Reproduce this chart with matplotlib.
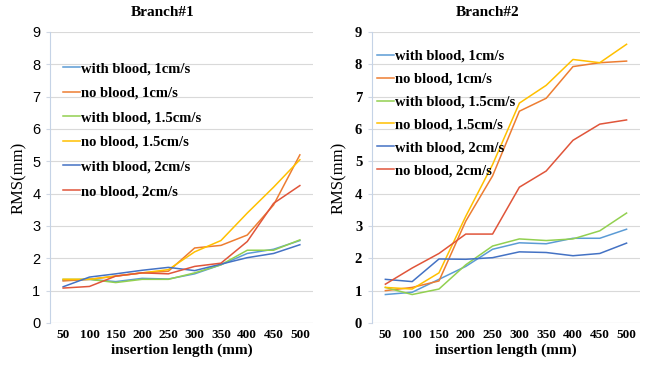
import numpy as np
import matplotlib
matplotlib.use("Agg")
from matplotlib import pyplot as plt

# insertion length categories
lengths = ["50", "100", "150", "200", "250", "300", "350", "400", "450", "500"]
labels = ["with blood, 1cm/s", "no blood, 1cm/s", "with blood, 1.5cm/s",
          "no blood, 1.5cm/s", "with blood, 2cm/s", "no blood, 2cm/s"]
colors = ["#5B9BD5", "#ED7D31", "#92D050", "#FFC000", "#4472C4", "#E0553A"]

# Branch#1 RMS (mm)
b1_wb_1 = [1.32, 1.35, 1.28, 1.38, 1.36, 1.52, 1.80, 2.15, 2.28, 2.55]
b1_nb_1 = [1.30, 1.35, 1.45, 1.55, 1.60, 2.32, 2.40, 2.72, 3.65, 5.20]
b1_wb_15 = [1.35, 1.35, 1.25, 1.35, 1.35, 1.55, 1.80, 2.25, 2.25, 2.57]
b1_nb_15 = [1.35, 1.35, 1.45, 1.55, 1.65, 2.20, 2.55, 3.40, 4.20, 5.05]
b1_wb_2 = [1.12, 1.42, 1.52, 1.63, 1.72, 1.62, 1.82, 2.02, 2.15, 2.42]
b1_nb_2 = [1.08, 1.13, 1.45, 1.55, 1.52, 1.75, 1.85, 2.52, 3.70, 4.25]

# Branch#2 RMS (mm)
b2_wb_1 = [0.88, 0.95, 1.35, 1.75, 2.28, 2.48, 2.45, 2.62, 2.62, 2.90]
b2_nb_1 = [1.00, 1.10, 1.30, 3.15, 4.55, 6.55, 6.95, 7.93, 8.05, 8.10]
b2_wb_15 = [1.10, 0.88, 1.05, 1.80, 2.38, 2.60, 2.55, 2.60, 2.85, 3.40]
b2_nb_15 = [1.10, 1.05, 1.55, 3.30, 4.90, 6.80, 7.35, 8.15, 8.05, 8.62]
b2_wb_2 = [1.35, 1.28, 1.98, 1.97, 2.02, 2.20, 2.18, 2.08, 2.15, 2.47]
b2_nb_2 = [1.20, 1.70, 2.15, 2.75, 2.75, 4.20, 4.70, 5.65, 6.15, 6.28]

branch1 = [b1_wb_1, b1_nb_1, b1_wb_15, b1_nb_15, b1_wb_2, b1_nb_2]
branch2 = [b2_wb_1, b2_nb_1, b2_wb_15, b2_nb_15, b2_wb_2, b2_nb_2]

serif = "Liberation Serif"

fig = plt.figure(figsize=(6.45, 3.69), dpi=100)
ax1 = fig.add_axes([0.0775, 0.1247, 0.4078, 0.7886])
ax2 = fig.add_axes([0.5767, 0.1247, 0.4155, 0.7886])


def draw(ax, data, title, sans_ticks, leg_anchor, leg_space, title_x, ylab_x):
    x = np.arange(len(lengths))
    for ys, lab, c in zip(data, labels, colors):
        ax.plot(x, ys, color=c, lw=1.1, label=lab)
    ax.set_xlim(-0.5, len(lengths) - 0.5)
    ax.set_ylim(0, 9)
    ax.set_yticks(range(10))
    ax.set_xticks(x)
    ax.set_xticklabels(lengths, family=serif, weight="bold", fontsize=9.5)
    if sans_ticks:
        ax.set_yticklabels([str(i) for i in range(10)], family="Liberation Sans", fontsize=10.5)
    else:
        ax.set_yticklabels([str(i) for i in range(10)], family=serif, weight="bold", fontsize=10.5)
    ax.grid(axis="y", color="#D9D9D9", lw=0.8)
    ax.set_axisbelow(True)
    for s in ["top", "right", "bottom"]:
        ax.spines[s].set_visible(False)
    ax.spines["left"].set_color("#C5D3E6")
    ax.axhline(0, color="#D9D9D9", lw=0.8, zorder=0)
    ax.tick_params(axis="x", length=0, pad=4)
    ax.tick_params(axis="y", length=3, color="#D0D8E4", pad=4)
    ax.text(title_x, 1.066, title, transform=ax.transAxes, ha="center", va="center",
            family=serif, weight="bold", fontsize=11)
    ax.set_xlabel("insertion length (mm)", family=serif, weight="bold", fontsize=11, labelpad=2)
    ax.set_ylabel("RMS(mm)", family=serif, fontsize=12)
    ax.yaxis.set_label_coords(ylab_x, 0.5)
    ax.legend(loc="upper left", bbox_to_anchor=leg_anchor, frameon=False,
              prop={"family": serif, "weight": "bold", "size": 10.5},
              handlelength=1.15, handletextpad=0.05, labelspacing=leg_space,
              borderpad=0, borderaxespad=0)


draw(ax1, branch1, "Branch#1", True, (0.05, 0.897), 0.78, 0.43, -0.088)
draw(ax2, branch2, "Branch#2", False, (0.019, 0.94), 0.67, 0.433, -0.092)

fig.savefig("out.png", dpi=100)
